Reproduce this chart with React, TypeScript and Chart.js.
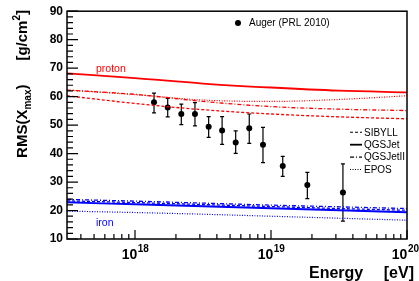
import React, { useEffect, useRef } from "react";
import { Chart, registerables } from "chart.js";

Chart.register(...registerables);

// ---------- data ----------
const modelEnergy = [3.1623e17, 1e18, 3.1623e18, 1e19, 3.1623e19, 1e20];

const protonSIBYLL = [60.3, 57.6, 55.4, 53.9, 52.9, 52.2];
const protonQGSJet = [68.2, 66.5, 64.6, 63.2, 62.1, 61.5];
const protonQGSJetII = [62.3, 60.8, 58.3, 56.5, 55.6, 55.1];
const protonEPOS = [62.3, 60.7, 58.8, 58.3, 59.0, 60.3];

const ironSIBYLL = [23.4, 22.8, 22.1, 21.4, 20.7, 20.1];
const ironQGSJet = [22.9, 22.2, 21.5, 20.8, 20.1, 19.4];
const ironQGSJetII = [23.9, 23.3, 22.6, 21.9, 21.3, 20.7];
const ironEPOS = [19.8, 19.3, 18.7, 18.0, 17.3, 16.6];

const augerEnergy = [1.38e18, 1.74e18, 2.19e18, 2.76e18, 3.48e18, 4.37e18, 5.5e18, 6.92e18, 8.73e18, 1.22e19, 1.85e19, 3.38e19];
const augerRMS = [58.0, 56.2, 53.9, 53.9, 49.4, 48.1, 43.9, 48.9, 43.1, 35.6, 29.0, 26.3];
const augerErrLow = [54.3, 52.9, 50.2, 49.7, 45.7, 43.2, 40.1, 43.6, 36.8, 32.0, 24.2, 16.3];
const augerErrHigh = [61.2, 59.4, 57.4, 57.9, 53.0, 53.0, 48.0, 53.9, 49.2, 39.0, 33.4, 36.4];

const xDecadeLabels = [18, 19, 20];
const modelNames = ["SIBYLL", "QGSJet", "QGSJetII", "EPOS"];
const augerLabel = "Auger (PRL 2010)";

// ---------- styles ----------
const FONT = "'Liberation Sans', Arial, Helvetica, sans-serif";
const RED = "#ff0000";
const BLUE = "#0000ff";
const dashes: Record<string, number[]> = {
  SIBYLL: [3, 2],
  QGSJet: [],
  QGSJetII: [4, 2, 1, 2],
  EPOS: [1, 1.5],
};
const widths: Record<string, number> = { SIBYLL: 1.3, QGSJet: 1.8, QGSJetII: 1.3, EPOS: 1.2 };

function lineDs(name: string, ys: number[], color: string) {
  return {
    label: name,
    data: modelEnergy.map((x, i) => ({ x, y: ys[i] })),
    showLine: true,
    borderColor: color,
    borderDash: dashes[name],
    borderWidth: widths[name],
    pointRadius: 0,
    fill: false,
    cubicInterpolationMode: "monotone" as const,
  };
}

const drawPlugin = {
  id: "rootStyle",
  beforeDatasetsDraw(chart: any) {
    const ctx = chart.ctx;
    const xs = chart.scales.x;
    const ys = chart.scales.y;
    ctx.save();
    ctx.strokeStyle = "#000";
    ctx.lineWidth = 1.2;
    augerEnergy.forEach((e, i) => {
      const px = xs.getPixelForValue(e);
      const y1 = ys.getPixelForValue(augerErrLow[i]);
      const y2 = ys.getPixelForValue(augerErrHigh[i]);
      ctx.beginPath();
      ctx.moveTo(px, y1);
      ctx.lineTo(px, y2);
      ctx.moveTo(px - 2, y1);
      ctx.lineTo(px + 2, y1);
      ctx.moveTo(px - 2, y2);
      ctx.lineTo(px + 2, y2);
      ctx.stroke();
    });
    ctx.restore();
  },
  afterDraw(chart: any) {
    const ctx = chart.ctx;
    const { left, right, top, bottom } = chart.chartArea;
    const xs = chart.scales.x;
    const ys = chart.scales.y;
    ctx.save();
    ctx.strokeStyle = "#000";
    ctx.fillStyle = "#000";
    ctx.setLineDash([]);

    // frame
    ctx.lineWidth = 1.5;
    ctx.strokeRect(left, top, right - left, bottom - top);

    // y ticks (inward)
    ctx.lineWidth = 1.2;
    ctx.beginPath();
    for (let v = ys.min; v <= ys.max + 1e-9; v += 2) {
      const py = ys.getPixelForValue(v);
      const len = Math.round(v) % 10 === 0 ? 11 : 6;
      ctx.moveTo(left, py);
      ctx.lineTo(left + len, py);
    }
    // x ticks (inward)
    for (let d = 17; d <= 20; d++) {
      for (let m = 1; m <= 9; m++) {
        const v = m * Math.pow(10, d);
        if (v < xs.min * 0.999 || v > xs.max * 1.001) continue;
        const px = xs.getPixelForValue(v);
        const len = m === 1 ? 9 : 5;
        ctx.moveTo(px, bottom);
        ctx.lineTo(px, bottom - len);
      }
    }
    ctx.stroke();

    // x labels 10^n
    ctx.textBaseline = "alphabetic";
    ctx.textAlign = "left";
    xDecadeLabels.forEach((d) => {
      const px = xs.getPixelForValue(Math.pow(10, d));
      ctx.font = `bold 14px ${FONT}`;
      const w1 = ctx.measureText("10").width;
      ctx.font = `bold 10px ${FONT}`;
      const w2 = ctx.measureText(String(d)).width;
      const x0 = Math.min(px - (w1 + w2) / 2, 419 - w1 - w2 - 0.5);
      ctx.font = `bold 14px ${FONT}`;
      ctx.fillText("10", x0, 259);
      ctx.font = `bold 10px ${FONT}`;
      ctx.fillText(String(d), x0 + w1 + 0.5, 252);
    });

    // x title
    ctx.font = `bold 16px ${FONT}`;
    ctx.fillText("Energy", 309, 278);
    ctx.textAlign = "right";
    ctx.fillText("[eV]", 414, 278);
    ctx.textAlign = "left";

    // y title (rotated)
    const parts = [
      { t: "RMS(X", s: 15, dy: 0, gap: 0 },
      { t: "max", s: 10, dy: 4, gap: 0 },
      { t: ")", s: 15, dy: 0, gap: 0 },
      { t: "[g/cm", s: 15, dy: 0, gap: 24 },
      { t: "2", s: 10, dy: -7, gap: 0 },
      { t: "]", s: 15, dy: 0, gap: 0 },
    ];
    let total = 0;
    parts.forEach((p) => {
      ctx.font = `bold ${p.s}px ${FONT}`;
      total += p.gap + ctx.measureText(p.t).width;
    });
    ctx.save();
    ctx.translate(27, 10 + total);
    ctx.rotate(-Math.PI / 2);
    let cx = 0;
    parts.forEach((p) => {
      ctx.font = `bold ${p.s}px ${FONT}`;
      cx += p.gap;
      ctx.fillText(p.t, cx, p.dy);
      cx += ctx.measureText(p.t).width;
    });
    ctx.restore();

    // top legend
    ctx.beginPath();
    ctx.arc(238, 23, 3, 0, Math.PI * 2);
    ctx.fill();
    ctx.font = `10px ${FONT}`;
    ctx.textBaseline = "middle";
    ctx.fillText(augerLabel, 249, 23.5);

    // model legend
    modelNames.forEach((name, i) => {
      const yy = 132.3 + i * 12.4;
      ctx.save();
      ctx.strokeStyle = "#000";
      ctx.lineWidth = name === "QGSJet" ? 1.8 : 1.1;
      ctx.setLineDash(dashes[name]);
      ctx.beginPath();
      ctx.moveTo(350, yy);
      ctx.lineTo(362, yy);
      ctx.stroke();
      ctx.restore();
      ctx.fillStyle = "#000";
      ctx.fillText(name, 364, yy + 0.5);
    });

    // composition labels
    ctx.textBaseline = "alphabetic";
    ctx.font = `10.5px ${FONT}`;
    ctx.fillStyle = RED;
    ctx.fillText("proton", 96, 72);
    ctx.fillStyle = BLUE;
    ctx.fillText("iron", 96, 226);

    ctx.restore();
  },
};

export default function App() {
  const ref = useRef<HTMLCanvasElement | null>(null);
  useEffect(() => {
    if (!ref.current) return;
    const chart = new Chart(ref.current, {
      type: "scatter",
      data: {
        datasets: [
          lineDs("SIBYLL", protonSIBYLL, RED),
          lineDs("QGSJet", protonQGSJet, RED),
          lineDs("QGSJetII", protonQGSJetII, RED),
          lineDs("EPOS", protonEPOS, RED),
          lineDs("SIBYLL", ironSIBYLL, BLUE),
          lineDs("QGSJet", ironQGSJet, BLUE),
          lineDs("QGSJetII", ironQGSJetII, BLUE),
          lineDs("EPOS", ironEPOS, BLUE),
          {
            label: augerLabel,
            data: augerEnergy.map((x, i) => ({ x, y: augerRMS[i] })),
            showLine: false,
            pointRadius: 3,
            pointBackgroundColor: "#000",
            pointBorderColor: "#000",
            pointBorderWidth: 0,
          },
        ] as any,
      },
      options: {
        animation: false,
        responsive: true,
        maintainAspectRatio: false,
        layout: { padding: { top: 10, right: 12, left: 0, bottom: 0 } },
        plugins: { legend: { display: false }, tooltip: { enabled: false } },
        scales: {
          x: {
            type: "logarithmic",
            min: 3.1623e17,
            max: 1e20,
            grid: { display: false, drawTicks: false },
            border: { display: false },
            ticks: { display: false },
            afterFit: (s: any) => {
              s.height = 42;
            },
          },
          y: {
            type: "linear",
            min: 10,
            max: 90,
            grid: { display: false, drawTicks: false },
            border: { display: false },
            ticks: {
              stepSize: 10,
              padding: 4,
              color: "#000",
              font: { family: FONT, size: 12, weight: "bold" },
            },
            afterFit: (s: any) => {
              s.width = 67;
            },
          },
        },
      } as any,
      plugins: [drawPlugin],
    });
    return () => chart.destroy();
  }, []);
  return (
    <div style={{ position: "fixed", left: 0, top: 0, width: 419, height: 281, background: "#fff" }}>
      <canvas ref={ref} />
    </div>
  );
}
